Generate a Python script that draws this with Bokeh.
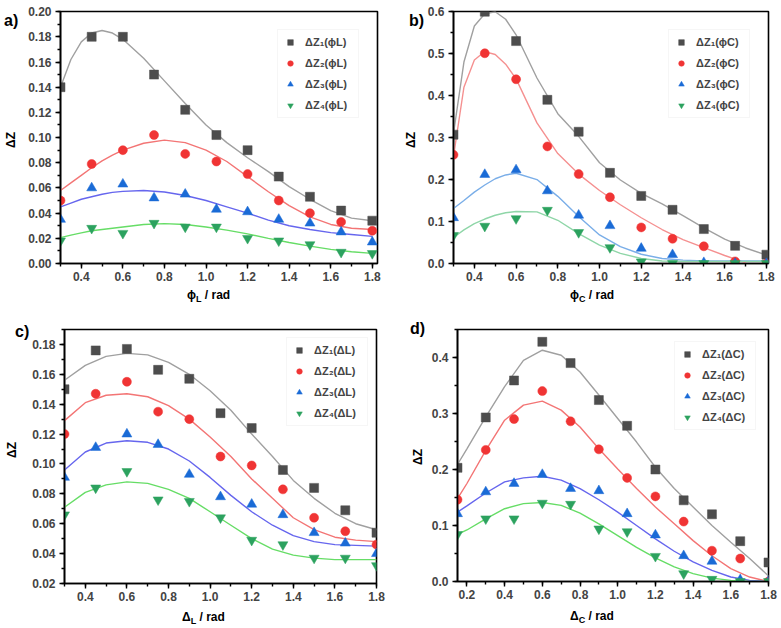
from bokeh.plotting import figure
from bokeh.layouts import column, row
from bokeh.models import (Range1d, LinearAxis, SingleIntervalTicker, NumeralTickFormatter,
                          Legend, LegendItem, Div)
from bokeh.embed import file_html
from bokeh.resources import INLINE

FONT = "Liberation Sans"

# ---------------- data ----------------
x_pts = [0.3, 0.45, 0.6, 0.75, 0.9, 1.05, 1.2, 1.35, 1.5, 1.65, 1.8]
x_pts_d = [0.15, 0.3, 0.45, 0.6, 0.75, 0.9, 1.05, 1.2, 1.35, 1.5, 1.65, 1.8]

# panel a  (phi_L)
a_z1 = [0.140, 0.180, 0.180, 0.150, 0.122, 0.102, 0.090, 0.069, 0.053, 0.042, 0.034]
a_z2 = [0.050, 0.079, 0.090, 0.102, 0.087, 0.081, 0.071, 0.050, 0.040, 0.033, 0.026]
a_z3 = [0.035, 0.060, 0.063, 0.052, 0.055, 0.043, 0.041, 0.035, 0.032, 0.025, 0.017]
a_z4 = [0.018, 0.028, 0.024, 0.032, 0.029, 0.029, 0.020, 0.018, 0.015, 0.009, 0.008]
a_fit_x = [0.3, 0.35, 0.4, 0.45, 0.5, 0.55, 0.6, 0.7, 0.8, 0.9, 1.0, 1.1, 1.2, 1.3, 1.4, 1.5, 1.6, 1.7, 1.8]
a_f1 = [0.140, 0.162, 0.176, 0.183, 0.185, 0.183, 0.178, 0.163, 0.145, 0.127, 0.110, 0.096, 0.084, 0.073, 0.061, 0.051, 0.042, 0.036, 0.034]
a_f2 = [0.058, 0.064, 0.070, 0.076, 0.0815, 0.086, 0.090, 0.0955, 0.098, 0.096, 0.090, 0.081, 0.069, 0.057, 0.046, 0.037, 0.031, 0.028, 0.027]
a_f3 = [0.045, 0.048, 0.051, 0.053, 0.055, 0.0565, 0.0573, 0.058, 0.0568, 0.054, 0.050, 0.045, 0.040, 0.0345, 0.030, 0.027, 0.0245, 0.023, 0.0215]
a_f4 = [0.0205, 0.0225, 0.0243, 0.026, 0.027, 0.028, 0.029, 0.031, 0.0317, 0.031, 0.029, 0.0265, 0.0235, 0.020, 0.0167, 0.0138, 0.0112, 0.0093, 0.008]

# panel b  (phi_C)
b_z1 = [0.307, 0.600, 0.530, 0.390, 0.314, 0.216, 0.161, 0.128, 0.082, 0.042, 0.021]
b_z2 = [0.259, 0.501, 0.439, 0.279, 0.213, 0.158, 0.086, 0.059, 0.041, 0.005, 0.000]
b_z3 = [0.109, 0.212, 0.223, 0.173, 0.115, 0.090, 0.036, 0.021, 0.002, 0.000, 0.000]
b_z4 = [0.067, 0.089, 0.107, 0.127, 0.074, 0.038, 0.004, 0.000, 0.000, 0.000, 0.000]
b_fit_x = [0.3, 0.35, 0.4, 0.45, 0.5, 0.55, 0.6, 0.7, 0.8, 0.9, 1.0, 1.1, 1.2, 1.3, 1.4, 1.5, 1.6, 1.7, 1.8]
b_f1 = [0.310, 0.480, 0.566, 0.595, 0.600, 0.582, 0.545, 0.442, 0.357, 0.303, 0.240, 0.199, 0.167, 0.142, 0.114, 0.085, 0.058, 0.037, 0.020]
b_fit2_x = [0.3, 0.35, 0.4, 0.45, 0.5, 0.55, 0.6, 0.7, 0.8, 0.9, 1.0, 1.1, 1.2, 1.3, 1.4, 1.5, 1.6, 1.7]
b_f2 = [0.255, 0.420, 0.485, 0.505, 0.498, 0.475, 0.440, 0.335, 0.262, 0.213, 0.174, 0.140, 0.109, 0.081, 0.057, 0.038, 0.019, 0.002]
b_f3 = [0.131, 0.150, 0.170, 0.187, 0.202, 0.211, 0.215, 0.200, 0.160, 0.112, 0.068, 0.040, 0.022, 0.012, 0.008, 0.006, 0.006, 0.006, 0.006]
b_f4 = [0.062, 0.080, 0.095, 0.106, 0.115, 0.121, 0.124, 0.123, 0.103, 0.071, 0.044, 0.024, 0.012, 0.006, 0.005, 0.005, 0.005, 0.005, 0.005]

# panel c  (Delta_L)
c_z1 = [0.150, 0.176, 0.177, 0.163, 0.157, 0.134, 0.124, 0.096, 0.084, 0.069, 0.054]
c_z2 = [0.120, 0.147, 0.155, 0.135, 0.130, 0.105, 0.099, 0.083, 0.064, 0.055, 0.046]
c_z3 = [0.091, 0.111, 0.120, 0.113, 0.093, 0.078, 0.073, 0.066, 0.054, 0.047, 0.040]
c_z4 = [0.066, 0.084, 0.095, 0.076, 0.075, 0.064, 0.049, 0.046, 0.037, 0.037, 0.032]
c_fit_x = [0.3, 0.4, 0.5, 0.6, 0.7, 0.8, 0.9, 1.0, 1.1, 1.2, 1.3, 1.4, 1.5, 1.6, 1.7, 1.8]
c_f1 = [0.156, 0.166, 0.172, 0.174, 0.173, 0.168, 0.160, 0.149, 0.136, 0.120, 0.105, 0.089, 0.077, 0.067, 0.060, 0.056]
c_f2 = [0.129, 0.141, 0.146, 0.147, 0.145, 0.139, 0.130, 0.118, 0.105, 0.090, 0.077, 0.064, 0.056, 0.051, 0.049, 0.048]
c_f3 = [0.096, 0.108, 0.114, 0.1155, 0.1145, 0.110, 0.102, 0.091, 0.079, 0.068, 0.059, 0.052, 0.048, 0.046, 0.0455, 0.045]
c_f4 = [0.071, 0.081, 0.086, 0.088, 0.087, 0.083, 0.077, 0.068, 0.059, 0.050, 0.043, 0.039, 0.037, 0.036, 0.036, 0.036]

# panel d  (Delta_C)
d_z1 = [0.203, 0.293, 0.359, 0.428, 0.390, 0.324, 0.278, 0.200, 0.145, 0.120, 0.072, 0.034]
d_z2 = [0.146, 0.235, 0.290, 0.340, 0.286, 0.236, 0.185, 0.152, 0.107, 0.055, 0.041, 0.000]
d_z3 = [0.121, 0.160, 0.175, 0.191, 0.166, 0.162, 0.121, 0.083, 0.046, 0.036, 0.003, 0.000]
d_z4 = [0.084, 0.112, 0.112, 0.140, 0.138, 0.094, 0.089, 0.045, 0.014, 0.004, 0.000, 0.000]
d_fit_x = [0.15, 0.2, 0.3, 0.4, 0.5, 0.6, 0.7, 0.8, 0.9, 1.0, 1.1, 1.2, 1.3, 1.4, 1.5, 1.6, 1.7, 1.8]
d_f1 = [0.209, 0.237, 0.294, 0.348, 0.395, 0.413, 0.404, 0.374, 0.333, 0.291, 0.249, 0.204, 0.166, 0.133, 0.100, 0.070, 0.041, 0.010]
d_f2 = [0.148, 0.175, 0.234, 0.288, 0.315, 0.322, 0.306, 0.276, 0.237, 0.201, 0.166, 0.133, 0.103, 0.073, 0.046, 0.023, 0.008, 0.000]
d_f3 = [0.124, 0.135, 0.158, 0.178, 0.185, 0.188, 0.181, 0.166, 0.146, 0.124, 0.100, 0.076, 0.054, 0.035, 0.020, 0.008, 0.002, 0.000]
d_f4 = [0.084, 0.092, 0.112, 0.130, 0.139, 0.141, 0.136, 0.122, 0.103, 0.082, 0.061, 0.042, 0.026, 0.014, 0.006, 0.002, 0.000, 0.000]

subs = ["\u2081", "\u2082", "\u2083", "\u2084"]
MARK_COLORS = ["#4d4d4d", "#f03434", "#1a6bd6", "#2ca25f"]
MARKERS = ["square", "circle", "triangle", "inverted_triangle"]
MARK_SIZES = [9, 9, 10, 10]
LINE_COLORS = ["#a0a0a0", "#f37575", "#6666ee", "#66dd66"]
LINE_COLORS_B = ["#a0a0a0", "#f59090", "#7aaee8", "#8fd6a8"]

PHI = "\u03d5"
DEL = "\u0394"


def style_axis(ax):
    ax.axis_line_width = 1.6
    ax.axis_line_color = "black"
    ax.major_tick_line_width = 1.4
    ax.minor_tick_line_width = 1.4
    ax.major_tick_out = 5
    ax.major_tick_in = 0
    ax.minor_tick_out = 3
    ax.minor_tick_in = 0
    ax.major_label_text_font = FONT
    ax.major_label_text_font_style = "bold"
    ax.major_label_text_font_size = "12px"


def panel(width, height, borders, xr, yr, xint, yint, yfmt,
          xs, series, fits, colors, sym, sub, legend_margin):
    bl, br, bt, bb = borders
    p = figure(width=width, height=height, x_range=Range1d(*xr), y_range=Range1d(*yr),
               output_backend="svg", toolbar_location=None,
               min_border_left=bl, min_border_right=br, min_border_top=bt, min_border_bottom=bb,
               x_axis_type=None, y_axis_type=None)
    p.grid.visible = False
    p.outline_line_color = "black"
    p.outline_line_width = 1.6

    xb = LinearAxis(ticker=SingleIntervalTicker(interval=xint, num_minor_ticks=2),
                    formatter=NumeralTickFormatter(format="0.0"))
    style_axis(xb)
    xb.major_label_standoff = 3
    p.add_layout(xb, "below")
    yl = LinearAxis(ticker=SingleIntervalTicker(interval=yint, num_minor_ticks=2),
                    formatter=NumeralTickFormatter(format=yfmt))
    style_axis(yl)
    yl.major_label_standoff = 4
    p.add_layout(yl, "left")

    for i in range(4):
        fx, fy = fits[i]
        p.line(fx, fy, line_color=colors[i], line_width=1.4)
    items = []
    for i in range(4):
        r = p.scatter(xs, series[i], marker=MARKERS[i], size=MARK_SIZES[i],
                      fill_color=MARK_COLORS[i], line_color=MARK_COLORS[i], line_width=0.5)
        items.append(LegendItem(label="\u0394Z" + subs[i] + "(" + sym + sub + ")", renderers=[r]))
    leg = Legend(items=items, location="top_right", margin=legend_margin, orientation="vertical",
                 padding=5, spacing=7, glyph_width=14, glyph_height=14, label_height=14,
                 label_width=48, label_standoff=8,
                 label_text_font=FONT, label_text_font_style="bold", label_text_font_size="11px",
                 border_line_color="#eeeeee")
    p.add_layout(leg)
    return p


TXT = "font-family:'Liberation Sans',Arial,sans-serif;font-weight:bold;color:#000;"


def strip(width, height, letter, letter_pos, ylab_pos):
    lx, ly = letter_pos
    yx, yy = ylab_pos
    html = (f'<div style="position:relative;width:{width}px;height:{height}px;{TXT}">'
            f'<div style="position:absolute;left:{lx}px;top:{ly}px;font-size:16px;line-height:16px;">{letter}</div>'
            f'<div style="position:absolute;left:{yx}px;top:{yy}px;width:22px;text-align:center;'
            f'font-size:12px;line-height:14px;transform:rotate(-90deg);">\u0394Z</div></div>')
    return Div(text=html, width=width, height=height, margin=0)


def xlabel(width, height, sym, sub, left, top):
    html = (f'<div style="position:relative;left:{left}px;top:{top}px;white-space:nowrap;'
            f'font-size:12px;line-height:14px;{TXT}">{sym}<span style="font-size:9px;'
            f'position:relative;top:3px;">{sub}</span> / rad</div>')
    return Div(text=html, width=width, height=height, margin=0)


pa = panel(375, 287, (32, 23, 11, 24), (0.3, 1.825), (0.0, 0.2001), 0.2, 0.02, "0.00",
           x_pts, [a_z1, a_z2, a_z3, a_z4],
           [(a_fit_x, a_f1), (a_fit_x, a_f2), (a_fit_x, a_f3), (a_fit_x, a_f4)],
           LINE_COLORS, PHI, "L", 18)
pb = panel(356, 287, (26, 12, 11, 24), (0.3, 1.81), (0.0, 0.6005), 0.2, 0.1, "0.0",
           x_pts, [b_z1, b_z2, b_z3, b_z4],
           [(b_fit_x, b_f1), (b_fit2_x, b_f2), (b_fit_x, b_f3), (b_fit_x, b_f4)],
           LINE_COLORS_B, PHI, "C", 18)
pc = panel(371, 302, (32, 24, 24, 24), (0.3, 1.8), (0.02, 0.19), 0.2, 0.02, "0.00",
           x_pts, [c_z1, c_z2, c_z3, c_z4],
           [(c_fit_x, c_f1), (c_fit_x, c_f2), (c_fit_x, c_f3), (c_fit_x, c_f4)],
           LINE_COLORS, DEL, "L", 8)
pd_ = panel(352, 302, (27, 12, 24, 26), (0.15, 1.8), (0.0, 0.45), 0.2, 0.1, "0.0",
            x_pts_d, [d_z1, d_z2, d_z3, d_z4],
            [(d_fit_x, d_f1), (d_fit_x, d_f2), (d_fit_x, d_f3), (d_fit_x, d_f4)],
            LINE_COLORS, DEL, "C", 12)

row1 = row(strip(25, 305, "a)", (4, 13), (0, 133)),
           column(pa, xlabel(375, 18, PHI, "L", 162, 0), spacing=0),
           strip(24, 305, "b)", (9, 13), (0, 133)),
           column(pb, xlabel(356, 18, PHI, "C", 146, 0), spacing=0), spacing=0)
row2 = row(strip(29, 322, "c)", (15, 19), (1, 138)),
           column(pc, xlabel(371, 20, DEL, "L", 153, 2), spacing=0),
           strip(28, 322, "d)", (10, 16), (7, 145)),
           column(pd_, xlabel(352, 20, DEL, "C", 142, 1), spacing=0), spacing=0)
layout = column(row1, row2, spacing=0)

with open("out.html", "w") as f:
    f.write(file_html(layout, INLINE, title="Delta Z"))
